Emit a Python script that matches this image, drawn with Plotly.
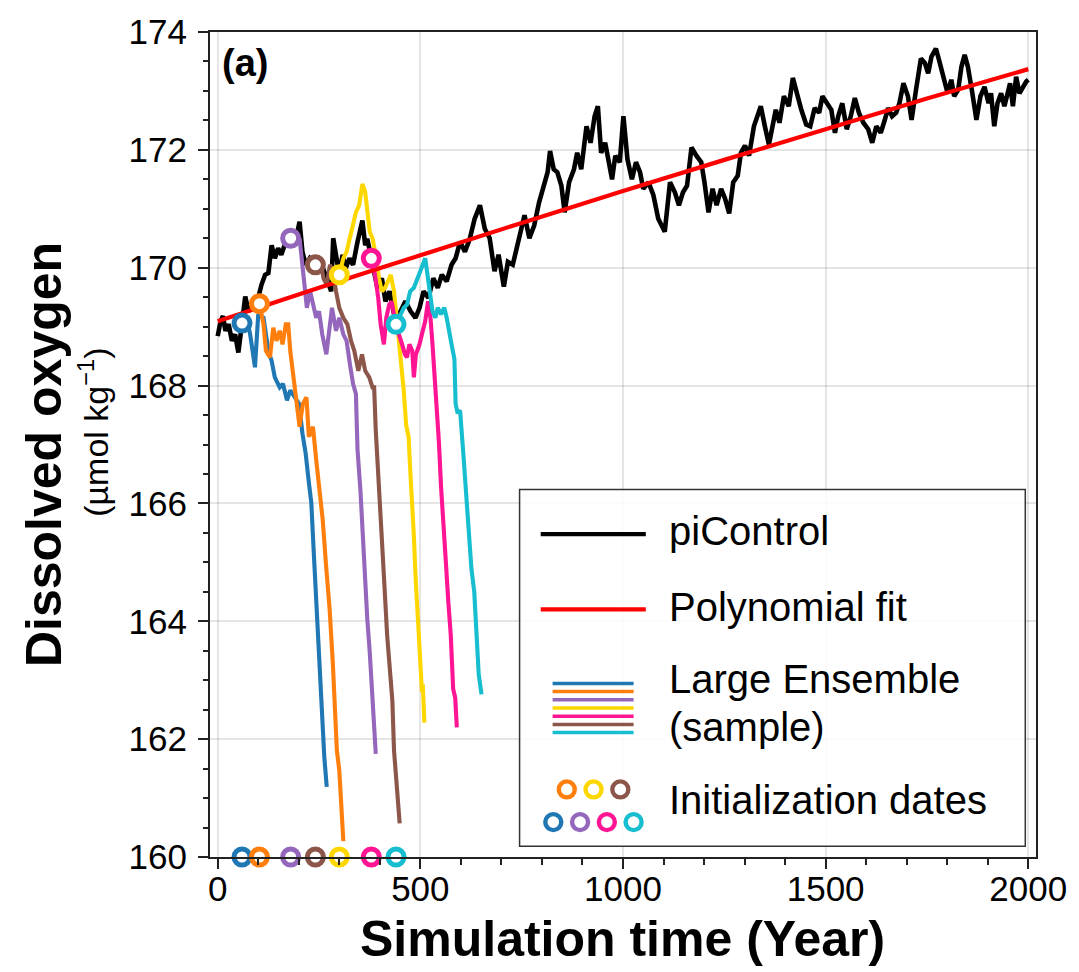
import plotly.graph_objects as go

# ---------------- data ----------------
pic_years = [0, 7, 13, 19, 27, 35, 43, 51, 60, 68, 76, 88, 100, 108, 117, 125, 133, 141, 149, 157,
             168, 180, 190, 202, 209, 217, 227, 241, 251, 263, 276, 280, 285, 292, 300, 308, 316, 325,
             334, 345, 357, 364, 369, 379, 386, 394, 405, 414, 424, 440, 451, 463, 476, 488, 498, 508,
             520, 532, 543, 553, 565, 577, 587, 598, 610, 622, 634, 647, 659, 671, 683, 693, 706, 716,
             728, 740, 757, 769, 781, 793, 806, 814, 820, 829, 838, 848, 856, 867, 879, 887, 897, 910,
             920, 930, 938, 946, 956, 965, 973, 981, 992, 1001, 1011, 1022, 1032, 1042, 1050, 1063,
             1075, 1087, 1103, 1116, 1128, 1138, 1148, 1158, 1169, 1181, 1193, 1201, 1211, 1221, 1231,
             1242, 1252, 1262, 1272, 1283, 1291, 1301, 1311, 1323, 1340, 1350, 1360, 1377, 1386, 1397,
             1409, 1419, 1430, 1440, 1452, 1462, 1473, 1484, 1492, 1503, 1514, 1523, 1531, 1541, 1552,
             1562, 1572, 1582, 1593, 1605, 1615, 1625, 1636, 1646, 1654, 1664, 1674, 1682, 1692, 1703,
             1712, 1723, 1735, 1745, 1753, 1761, 1772, 1780, 1791, 1801, 1810, 1817, 1827, 1835, 1843,
             1851, 1862, 1872, 1882, 1892, 1902, 1908, 1916, 1924, 1933, 1941, 1949, 1955, 1962, 1970,
             1978, 1986, 1995, 2000]
pic_values = [168.84, 169.09, 169.18, 168.93, 169.04, 168.76, 168.87, 168.56, 169.06, 169.51, 169.26,
              169.37, 169.49, 169.71, 169.88, 169.91, 170.38, 170.16, 170.33, 170.22, 170.44, 170.50,
              170.38, 170.78, 170.27, 170.05, 170.16, 170.05, 170.16, 169.93, 169.71, 169.60, 170.50,
              170.16, 169.88, 170.22, 169.99, 170.16, 170.05, 170.44, 170.80, 170.38, 170.49, 170.16,
              169.88, 169.66, 169.82, 169.43, 169.60, 169.04, 169.26, 169.43, 169.26, 169.15, 169.32,
              169.60, 169.49, 169.82, 169.66, 169.88, 169.77, 170.05, 170.16, 170.44, 170.27, 170.49,
              170.83, 171.06, 170.66, 170.50, 169.94, 170.22, 169.68, 170.10, 170.05, 170.38, 170.89,
              170.50, 170.72, 171.11, 171.45, 171.62, 171.98, 171.67, 171.62, 171.39, 170.94, 171.45,
              171.67, 171.95, 171.67, 172.40, 172.12, 172.57, 172.74, 171.95, 172.12, 171.73, 171.50,
              171.90, 171.79, 172.57, 171.84, 171.50, 171.79, 171.62, 171.34, 171.45, 171.23, 170.83,
              170.61, 171.45, 171.28, 171.06, 171.28, 171.39, 172.04, 171.90, 171.79, 171.45, 170.94,
              171.34, 171.06, 171.34, 171.17, 170.92, 171.45, 171.56, 171.95, 172.07, 171.90, 172.40,
              172.74, 172.40, 172.09, 172.68, 172.46, 172.91, 172.74, 173.22, 172.91, 172.68, 172.43,
              172.40, 172.71, 172.63, 172.91, 172.79, 172.68, 172.29, 172.57, 172.79, 172.35, 172.57,
              172.88, 172.63, 172.46, 172.35, 172.12, 172.40, 172.29, 172.51, 172.71, 172.57, 172.63,
              172.79, 173.13, 172.91, 172.51, 173.02, 173.55, 173.47, 173.30, 173.58, 173.72, 173.52,
              173.24, 172.96, 173.19, 172.91, 173.02, 173.41, 173.61, 173.41, 172.96, 172.51, 172.91,
              173.07, 172.79, 172.96, 172.40, 172.79, 172.96, 172.74, 172.96, 173.13, 172.74, 173.24,
              172.96, 173.07, 173.16, 173.19]

fit_years = [0, 250, 500, 750, 1000, 1250, 1500, 1750, 2000]
fit_values = [169.09, 169.66, 170.21, 170.76, 171.30, 171.83, 172.35, 172.87, 173.37]

blue_years = [60, 72, 80, 92, 100, 113, 125, 133, 141, 153, 161, 171, 179, 190, 201, 209, 217, 225,
              231, 237, 243, 250, 255, 258, 263, 269]
blue_values = [169.06, 169.15, 168.87, 168.31, 169.21, 169.15, 168.59, 168.42, 168.14, 167.97, 168.03,
               167.75, 167.92, 167.80, 167.69, 167.19, 166.85, 166.35, 166.01, 165.17, 164.33, 163.49,
               162.65, 162.37, 161.70, 161.19]

orange_years = [103, 113, 119, 129, 137, 145, 153, 160, 168, 174, 179, 186, 194, 202, 210, 219, 225,
                235, 243, 251, 259, 268, 276, 284, 288, 294, 300, 304, 310]
orange_values = [169.39, 169.04, 168.59, 168.48, 168.98, 168.76, 168.93, 168.70, 169.04, 169.04, 168.59,
                 168.20, 167.70, 167.30, 167.69, 167.80, 167.13, 167.30, 166.74, 166.24, 165.73, 164.89,
                 164.22, 163.30, 162.60, 161.81, 161.47, 160.97, 160.27]

purple_years = [180, 194, 202, 209, 215, 220, 228, 237, 243, 250, 258, 268, 276, 282, 292, 300, 310,
                318, 326, 334, 341, 345, 352, 357, 363, 369, 375, 382, 386, 390]
purple_values = [170.50, 170.44, 170.50, 170.05, 169.60, 169.32, 169.60, 169.32, 169.15, 169.26, 168.87,
                 168.53, 169.04, 169.32, 168.93, 169.15, 168.87, 168.76, 168.37, 168.03, 167.86, 166.91,
                 166.24, 165.56, 164.89, 164.05, 163.49, 162.65, 162.37, 161.75]

brown_years = [241, 253, 261, 269, 277, 284, 292, 300, 310, 320, 329, 337, 347, 356, 364, 374, 382,
               386, 390, 394, 398, 405, 410, 418, 424, 431, 435, 440, 445, 449]
brown_values = [170.05, 170.16, 169.82, 169.71, 170.05, 169.94, 169.60, 169.32, 169.15, 169.04, 168.76,
                168.59, 168.25, 168.53, 168.25, 168.14, 167.97, 167.97, 167.24, 166.69, 166.18, 165.45,
                164.78, 163.77, 163.21, 162.65, 161.81, 161.36, 160.97, 160.57]

yellow_years = [300, 310, 318, 326, 334, 341, 349, 357, 364, 370, 375, 382, 390, 398, 405, 413, 421,
                427, 435, 443, 451, 459, 465, 471, 475, 480, 484, 488, 492, 496, 500, 504, 506, 510]
yellow_values = [169.88, 170.16, 170.27, 170.50, 170.72, 170.94, 171.06, 171.42, 171.28, 170.94, 170.61,
                 170.50, 170.22, 169.82, 169.60, 169.66, 169.77, 169.88, 169.60, 169.04, 168.59, 167.92,
                 167.33, 167.13, 166.57, 166.01, 165.45, 164.78, 164.33, 163.77, 163.21, 162.80, 162.93,
                 162.28]

pink_years = [379, 388, 396, 402, 410, 416, 423, 429, 435, 440, 447, 455, 462, 467, 473, 480, 484, 489,
              498, 506, 512, 519, 525, 530, 537, 543, 546, 551, 557, 563, 569, 575, 581, 586, 590]
pink_values = [170.16, 169.88, 169.49, 169.04, 168.70, 169.15, 169.37, 169.43, 169.21, 169.04, 168.87,
               168.70, 168.53, 168.48, 168.70, 168.59, 168.14, 168.53, 168.70, 168.93, 169.09, 169.43,
               169.15, 168.70, 168.03, 167.33, 167.02, 166.29, 165.73, 165.00, 164.33, 163.77, 162.85,
               162.70, 162.20]

cyan_years = [440, 451, 459, 467, 475, 484, 492, 500, 506, 512, 519, 524, 530, 537, 543, 551, 559, 565,
              571, 577, 584, 587, 592, 598, 606, 614, 620, 626, 633, 639, 644, 651]
cyan_values = [169.04, 169.21, 169.32, 169.37, 169.60, 169.66, 169.82, 169.94, 170.05, 170.16, 169.82,
               169.60, 169.26, 169.15, 169.32, 169.21, 169.32, 169.15, 168.87, 168.70, 168.45, 167.69,
               167.53, 167.58, 166.85, 166.01, 165.45, 164.89, 164.50, 163.77, 163.10, 162.76]

init_years = [60, 103, 180, 241, 300, 379, 440]
init_values = [169.06, 169.39, 170.50, 170.05, 169.88, 170.16, 169.04]
init_colors = ["#1f77b4", "#ff7f0e", "#9467bd", "#8c564b", "#ffd700", "#ff1493", "#17becf"]

ensemble = [
    (blue_years, blue_values, "#1f77b4"),
    (orange_years, orange_values, "#ff7f0e"),
    (purple_years, purple_values, "#9467bd"),
    (brown_years, brown_values, "#8c564b"),
    (yellow_years, yellow_values, "#ffd700"),
    (pink_years, pink_values, "#ff1493"),
    (cyan_years, cyan_values, "#17becf"),
]

x_range = [-19, 2019]
y_range = [160, 174]

legend_labels = ["piControl", "Polynomial fit", "Large Ensemble", "(sample)", "Initialization dates"]
legend_line_colors = ["#1f77b4", "#ff7f0e", "#9467bd", "#ffd700", "#ff1493", "#8c564b", "#17becf"]
legend_circ_top = ["#ff7f0e", "#ffd700", "#8c564b"]
legend_circ_bottom = ["#1f77b4", "#9467bd", "#ff1493", "#17becf"]

# ---------------- figure ----------------
W, H = 1079, 972
ML, MR, MT, MB = 209.5, 36.5, 25, 114.5
PW, PH = W - ML - MR, H - MT - MB
FONT = "Liberation Sans, Arial, Helvetica, sans-serif"


def px(xp):
    return (xp - ML) / PW


def py(yp):
    return (H - MB - yp) / PH


fig = go.Figure()

fig.add_trace(go.Scatter(x=pic_years, y=pic_values, mode="lines",
                         line=dict(color="black", width=4.6), showlegend=False))

for yrs, vals, col in ensemble:
    fig.add_trace(go.Scatter(x=yrs, y=vals, mode="lines",
                             line=dict(color=col, width=4.1), showlegend=False))

fig.add_trace(go.Scatter(x=fit_years, y=fit_values, mode="lines", line_shape="spline",
                         line=dict(color="#ff0000", width=4.2), showlegend=False))

# initialization markers on the piControl line
fig.add_trace(go.Scatter(x=init_years, y=init_values, mode="markers",
                         marker=dict(size=16, color="white", symbol="circle",
                                     line=dict(color=init_colors, width=5)),
                         showlegend=False))
# initialization markers on the time axis
fig.add_trace(go.Scatter(x=init_years, y=[y_range[0]] * len(init_years), mode="markers",
                         cliponaxis=False,
                         marker=dict(size=16, color="white", symbol="circle",
                                     line=dict(color=init_colors, width=5)),
                         showlegend=False))

shapes = []
annotations = []

# legend box
shapes.append(dict(type="rect", xref="paper", yref="paper",
                   x0=px(521.7), x1=px(1031.7), y0=py(846.7), y1=py(486.7),
                   line=dict(color="#333333", width=1.5),
                   fillcolor="rgba(255,255,255,0.88)", layer="above"))
# legend lines
shapes.append(dict(type="line", xref="paper", yref="paper", x0=px(543), x1=px(649),
                   y0=py(531.7), y1=py(531.7), line=dict(color="black", width=4.3), layer="above"))
shapes.append(dict(type="line", xref="paper", yref="paper", x0=px(543), x1=px(649),
                   y0=py(607.7), y1=py(607.7), line=dict(color="#ff0000", width=4.3), layer="above"))
for i, col in enumerate(legend_line_colors):
    yy = 682.3 + i * 8.28
    shapes.append(dict(type="line", xref="paper", yref="paper", x0=px(555), x1=px(636.7),
                       y0=py(yy), y1=py(yy), line=dict(color=col, width=3.5), layer="above"))
for i, col in enumerate(legend_circ_top):
    cx = 569.3 + i * 27
    shapes.append(dict(type="circle", xref="paper", yref="paper", xsizemode="pixel",
                       ysizemode="pixel", xanchor=px(cx), yanchor=py(789.3),
                       x0=-8, x1=8, y0=-8, y1=8, fillcolor="white",
                       line=dict(color=col, width=4.4), layer="above"))
for i, col in enumerate(legend_circ_bottom):
    cx = 555.7 + i * 27
    shapes.append(dict(type="circle", xref="paper", yref="paper", xsizemode="pixel",
                       ysizemode="pixel", xanchor=px(cx), yanchor=py(822.3),
                       x0=-8, x1=8, y0=-8, y1=8, fillcolor="white",
                       line=dict(color=col, width=4.4), layer="above"))

legend_text_y = [529, 605, 678, 726, 800]
for lab, yy in zip(legend_labels, legend_text_y):
    annotations.append(dict(text=lab, xref="paper", yref="paper", x=px(670), y=py(yy),
                            xanchor="left", yanchor="middle", showarrow=False,
                            font=dict(family=FONT, size=40, color="black")))

# panel label
annotations.append(dict(text="<b>(a)</b>", xref="paper", yref="paper", x=px(220), y=py(33),
                        xanchor="left", yanchor="top", showarrow=False,
                        font=dict(family=FONT, size=38, color="black")))
# axis titles
annotations.append(dict(text="<b>Simulation time (Year)</b>", xref="paper", yref="paper",
                        x=px(625), y=py(940), xanchor="center", yanchor="middle", showarrow=False,
                        font=dict(family=FONT, size=50, color="black")))
annotations.append(dict(text="<b>Dissolved oxygen</b>", xref="paper", yref="paper",
                        x=px(42), y=py(451), xanchor="center", yanchor="middle", showarrow=False,
                        textangle=-90, font=dict(family=FONT, size=50, color="black")))
annotations.append(dict(text="(µmol kg<sup>−1</sup>)", xref="paper", yref="paper",
                        x=px(92), y=py(428), xanchor="center", yanchor="middle", showarrow=False,
                        textangle=-90, font=dict(family=FONT, size=34, color="black")))

axis_common = dict(showline=True, linecolor="#222222", linewidth=2, mirror=True,
                   ticks="outside", ticklen=10, tickwidth=2, tickcolor="#222222",
                   showgrid=True, gridcolor="rgba(0,0,0,0.10)", gridwidth=1.5,
                   zeroline=False, tickfont=dict(family=FONT, size=35, color="black"))

fig.update_xaxes(range=x_range, tick0=0, dtick=500, ticklabelstandoff=-10,
                 minor=dict(dtick=100, ticks="outside", ticklen=6, tickwidth=1.5,
                            tickcolor="#222222", showgrid=False),
                 **axis_common)
fig.update_yaxes(range=y_range, tick0=160, dtick=2, ticklabelstandoff=4,
                 minor=dict(dtick=0.5, ticks="outside", ticklen=5, tickwidth=1.5,
                            tickcolor="#222222", showgrid=False),
                 **axis_common)

fig.update_layout(width=W, height=H, margin=dict(l=ML, r=MR, t=MT, b=MB, pad=0),
                  plot_bgcolor="white", paper_bgcolor="white", showlegend=False,
                  shapes=shapes, annotations=annotations,
                  font=dict(family=FONT, color="black"))

fig.write_html("out.html", config={"displayModeBar": False},
               post_script="document.body.style.margin='0';document.body.style.padding='0';"
                           "document.documentElement.style.overflow='hidden';")
